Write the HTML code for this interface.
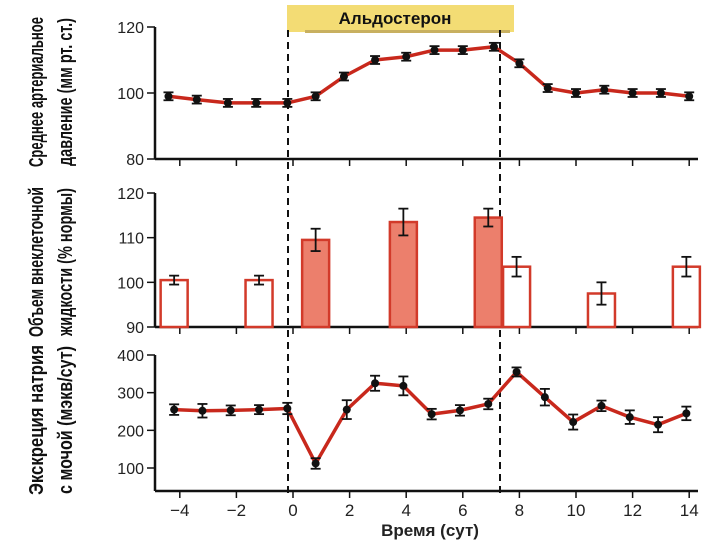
<!DOCTYPE html>
<html><head><meta charset="utf-8"><style>
body{margin:0;background:#fff;width:720px;height:540px;overflow:hidden}
svg{display:block;font-family:"Liberation Sans","DejaVu Sans",sans-serif}
</style></head><body>
<svg id="c" width="720" height="540"></svg>
<script>
const days = [-4.4,-3.4,-2.3,-1.3,-0.2,0.8,1.8,2.9,4,5,6,7.1,8,9,10,11,12,13,14];
const pressure = [99,98,97,97,97,99,105,110,111,113,113,114,109,101.5,100,101,100,100,99];
const pressureErr = [1.2,1.2,1.2,1.2,1.2,1.2,1.2,1.2,1.2,1.2,1.2,1.2,1.2,1.2,1.2,1.2,1.2,1.2,1.2];
const sodiumDays = [-4.2,-3.2,-2.2,-1.2,-0.2,0.8,1.9,2.9,3.9,4.9,5.9,6.9,7.9,8.9,9.9,10.9,11.9,12.9,13.9];
const sodium = [255,252,253,255,258,112,255,325,318,243,253,270,355,288,222,265,235,215,245];
const sodiumErr = [14,18,13,12,15,14,25,20,25,14,14,14,12,22,20,14,18,20,18];
const barDays = [-4.2,-1.2,0.8,3.9,6.9,7.9,10.9,13.9];
const volume = [100.5,100.5,109.5,113.5,114.5,103.5,97.5,103.5];
const volumeErr = [1,1,2.5,3,2,2.2,2.5,2.2];
const barFilled = [false,false,true,true,true,false,false,false];
const xTicks = [-4,-2,0,2,4,6,8,10,12,14];
const pTicks = [80,100,120];
const vTicks = [90,100,110,120];
const sTicks = [100,200,300,400];

const NS="http://www.w3.org/2000/svg", svg=document.getElementById('c');
function el(t,a,p){const e=document.createElementNS(NS,t);for(const k in a)e.setAttribute(k,a[k]);(p||svg).appendChild(e);return e;}
const x=d=>293+28.3*d;
const yP=v=>159-(v-80)*3.3;
const yV=v=>327-(v-90)*(134/30);
const yS=v=>468-(v-100)*(113/300);
const AX=155;

let g=el('g',{});


el('rect',{x:287,y:5,width:227,height:27,fill:'#f3dc74'},g);
el('rect',{x:305,y:30,width:205,height:3,fill:'#c8b060'},g);
let t=el('text',{x:395,y:24,'text-anchor':'middle','font-size':17,'font-weight':'bold',fill:'#111'},g);t.textContent='Альдостерон';

function axis(name,ticks,yf,top,bot){
  const a=el('g',{});
  
  
  el('line',{x1:AX,y1:top,x2:AX,y2:bot,stroke:'#111','stroke-width':2.5},a);
  ticks.forEach(v=>{el('line',{x1:AX-8,y1:yf(v),x2:AX,y2:yf(v),stroke:'#111','stroke-width':1.5},a);
    const tt=el('text',{x:AX-11,y:yf(v)+6,'text-anchor':'end','font-size':16,fill:'#222'},a);tt.textContent=v;});
  el('line',{x1:AX,y1:bot,x2:698,y2:bot,stroke:'#111','stroke-width':2.5},a);
  xTicks.forEach(d=>el('line',{x1:x(d),y1:bot,x2:x(d),y2:bot+7,stroke:'#111','stroke-width':1.5},a));
}
axis('pressure-axis',pTicks,yP,27,159);
axis('volume-axis',vTicks,yV,193,327);
axis('sodium-axis',sTicks,yS,355,491);
const xl=el('g',{});


xTicks.forEach(d=>{const tt=el('text',{x:x(d),y:516,'text-anchor':'middle','font-size':17,fill:'#222'},xl);tt.textContent=d<0?'\u2212'+(-d):d;});
t=el('text',{x:430,y:536,'text-anchor':'middle','font-size':17,'font-weight':'bold',fill:'#222'});t.textContent='Время (сут)';


[['pressure-y-title','Среднее артериальное','давление (мм рт. ст.)',92],
 ['volume-y-title','Объем внеклеточной','жидкости (% нормы)',262],
 ['sodium-y-title','Экскреция натрия','с мочой (мэкв/сут)',420]].forEach(r=>{
  const a=el('g',{transform:`translate(0,${r[3]}) rotate(-90)`});
  
  
  let q=el('text',{x:0,y:43,'text-anchor':'middle','font-size':20,'font-weight':'bold',fill:'#111',textLength:150,lengthAdjust:'spacingAndGlyphs'},a);q.textContent=r[1];
  q=el('text',{x:0,y:72,'text-anchor':'middle','font-size':20,'font-weight':'bold',fill:'#111',textLength:148,lengthAdjust:'spacingAndGlyphs'},a);q.textContent=r[2];
});

[288,500].forEach((xx,i)=>{const l=el('line',{x1:xx,y1:30,x2:xx,y2:498,stroke:'#111','stroke-width':2,'stroke-dasharray':'7,5'});
  });

barDays.forEach((d,i)=>{
  const v=volume[i],cx=x(d),w=27;
  const r=el('rect',{x:cx-w/2,y:yV(v),width:w,height:yV(90)-yV(v),fill:barFilled[i]?'#ec7f6c':'#fff',stroke:'#d23a2a','stroke-width':2.5});
  
  const e=volumeErr[i];
  el('line',{x1:cx,y1:yV(v+e),x2:cx,y2:yV(v-e),stroke:'#111','stroke-width':1.8});
  el('line',{x1:cx-5,y1:yV(v+e),x2:cx+5,y2:yV(v+e),stroke:'#111','stroke-width':1.8});
  el('line',{x1:cx-5,y1:yV(v-e),x2:cx+5,y2:yV(v-e),stroke:'#111','stroke-width':1.8});
});

function series(name,xs,vals,errs,yf){
  const p=el('polyline',{points:xs.map((d,i)=>x(d)+','+yf(vals[i])).join(' '),fill:'none',stroke:'#c8281c','stroke-width':3.5,'stroke-linejoin':'round'});
  
  xs.forEach((d,i)=>{
    const cx=x(d),v=vals[i],e=errs[i];
    const g=el('g',{});
    
    
    el('line',{x1:cx,y1:yf(v+e),x2:cx,y2:yf(v-e),stroke:'#111','stroke-width':1.8},g);
    el('line',{x1:cx-5,y1:yf(v+e),x2:cx+5,y2:yf(v+e),stroke:'#111','stroke-width':1.8},g);
    el('line',{x1:cx-5,y1:yf(v-e),x2:cx+5,y2:yf(v-e),stroke:'#111','stroke-width':1.8},g);
    el('circle',{cx:cx,cy:yf(v),r:4,fill:'#111'},g);
  });
}
series('pressure',days,pressure,pressureErr,yP);
series('sodium',sodiumDays,sodium,sodiumErr,yS);
</script>
</body></html>
